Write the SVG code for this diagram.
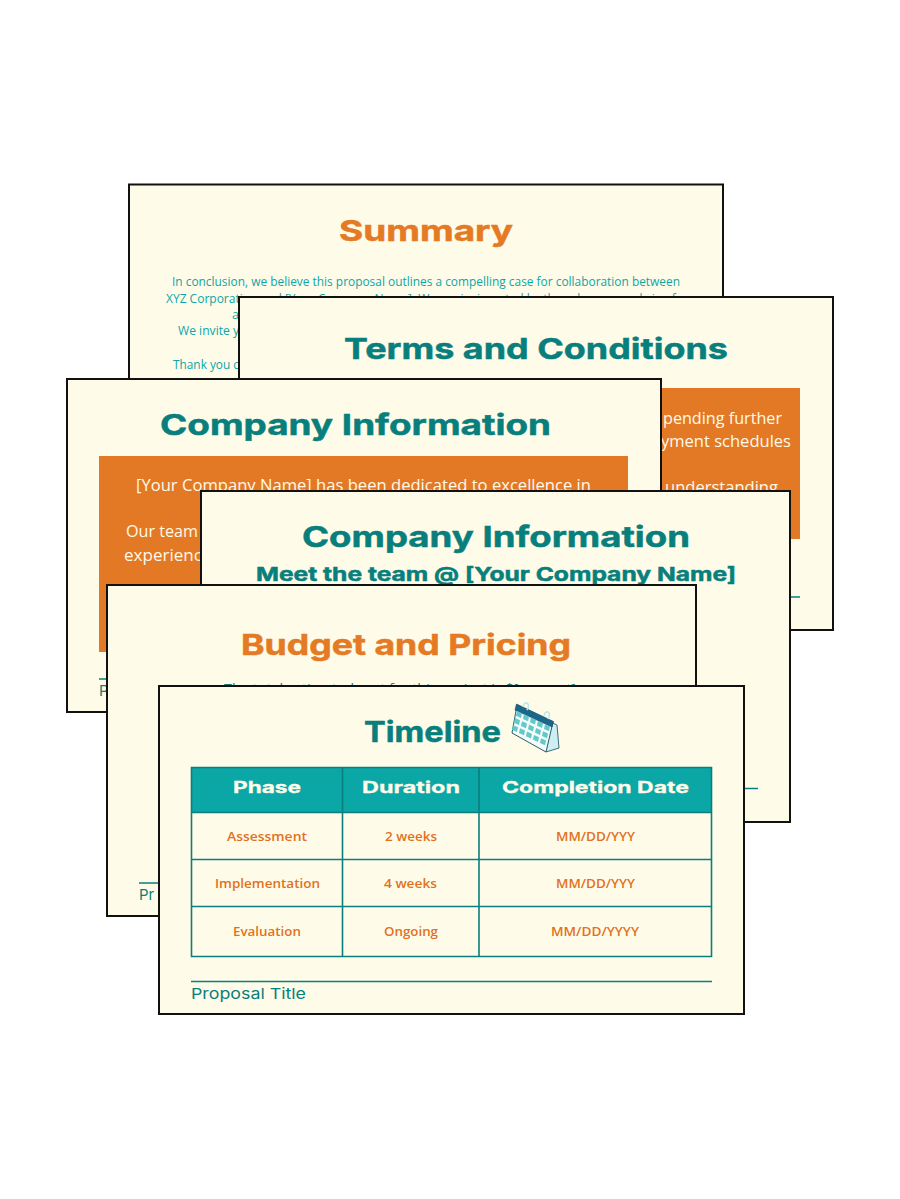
<svg xmlns="http://www.w3.org/2000/svg" width="900" height="1199" viewBox="0 0 900 1199">
<style>
.card{fill:#FEFCE9;stroke:#111;stroke-width:2}
.box{fill:#E37925}
.h{font-family:"Inter","Liberation Sans",sans-serif;font-weight:700;stroke-width:.5}
.b{font-family:"Open Sans","Liberation Sans",sans-serif;font-weight:400}
.t1{font-size:29px;fill:#087F7C;stroke:#087F7C}
.o1{font-size:29px;fill:#E57A24;stroke:#E57A24}
.body{font-size:12.5px;fill:#0BA6A6}
.w{font-size:16.5px;fill:#FFF9E8}
.rule{stroke:#087F7C;stroke-width:1.5;fill:none}
.foot{font-family:"Inter","Liberation Sans",sans-serif;font-size:15px;fill:#087F7C;font-weight:400}
.th{font-size:16px;fill:#FEFCE9;stroke:#FEFCE9;stroke-width:.3}
.td{font-family:"Open Sans","Liberation Sans",sans-serif;font-size:13px;font-weight:600;fill:#E2711D}
.tl{stroke:#087F7C;stroke-width:1.6;fill:none}
</style>
<rect width="900" height="1199" fill="#fff"/>
<g id="card-summary">
<rect class="card" x="129" y="184.500" width="594" height="240"/>
<text class="h o1" x="339" y="240.500" textLength="174" lengthAdjust="spacingAndGlyphs">Summary</text>
<text class="b body" x="172" y="286" textLength="508" lengthAdjust="spacingAndGlyphs">In conclusion, we believe this proposal outlines a compelling case for collaboration between</text>
<text class="b body" x="166" y="303" textLength="522" lengthAdjust="spacingAndGlyphs">XYZ Corporation and [Your Company Name]. We are invigorated by the value we can bring for</text>
<text class="b body" x="232" y="319">a</text>
<text class="b body" x="178" y="335" textLength="61" lengthAdjust="spacingAndGlyphs">We invite y</text>
<text class="b body" x="173" y="369" textLength="66" lengthAdjust="spacingAndGlyphs">Thank you c</text>
</g>
<g id="card-terms">
<rect class="card" x="239" y="297" width="594" height="333"/>
<text class="h t1" x="344" y="359" textLength="384" lengthAdjust="spacingAndGlyphs">Terms and Conditions</text>
<rect class="box" x="600" y="388" width="200" height="151"/>
<text class="b w" x="663" y="424" textLength="119" lengthAdjust="spacingAndGlyphs">pending further</text>
<text class="b w" x="661" y="447" textLength="130" lengthAdjust="spacingAndGlyphs">yment schedules</text>
<text class="b w" x="665" y="493" textLength="113" lengthAdjust="spacingAndGlyphs">understanding</text>
<line class="rule" x1="700" y1="597" x2="800" y2="597"/>
</g>
<g id="card-company-1">
<rect class="card" x="67" y="379" width="594" height="333"/>
<text class="h t1" x="160" y="435" textLength="391" lengthAdjust="spacingAndGlyphs">Company Information</text>
<rect class="box" x="99" y="456" width="529" height="196"/>
<text class="b w" x="136" y="491" textLength="455" lengthAdjust="spacingAndGlyphs">[Your Company Name] has been dedicated to excellence in</text>
<text class="b w" x="126" y="537" textLength="72" lengthAdjust="spacingAndGlyphs">Our team</text>
<text class="b w" x="124" y="561" textLength="78" lengthAdjust="spacingAndGlyphs">experienc</text>
<line class="rule" x1="99" y1="679" x2="112" y2="679"/>
<text class="foot" x="99" y="696">P</text>
</g>
<g id="card-company-2">
<rect class="card" x="201" y="491" width="589" height="331"/>
<text class="h t1" x="302" y="547" textLength="388" lengthAdjust="spacingAndGlyphs">Company Information</text>
<text class="h" x="256" y="580.500" font-size="19" fill="#087F7C" stroke="#087F7C" textLength="480" lengthAdjust="spacingAndGlyphs">Meet the team @ [Your Company Name]</text>
<line class="rule" x1="700" y1="788.500" x2="758" y2="788.500"/>
</g>
<g id="card-budget">
<rect class="card" x="107" y="585" width="589" height="331"/>
<text class="h o1" x="241" y="654.500" textLength="330" lengthAdjust="spacingAndGlyphs">Budget and Pricing</text>
<text class="b" x="224" y="693" font-size="12.500" fill="#087F7C" textLength="352" lengthAdjust="spacingAndGlyphs">The total estimated cost for this project is $[amount]</text>
<line class="rule" x1="139" y1="883" x2="165" y2="883"/>
<text class="foot" x="139" y="900">Pr</text>
</g>
<g id="card-timeline">
<rect class="card" x="159" y="686" width="585" height="328"/>
<text class="h t1" x="364" y="741.500" textLength="137" lengthAdjust="spacingAndGlyphs">Timeline</text>
<g id="calendar">
<path d="M518 707 L557 725 L559 748 L546 752 Z" fill="#CDEFF2" stroke="#17475F" stroke-width=".8"/>
<path d="M512 733 L546 752 L553 722 L517 705 Z" fill="#F4FBFB" stroke="#17475F" stroke-width=".9"/>
<path d="M516.500 704 L553.500 721.500 L552 727 L515 710 Z" fill="#17688C" stroke="#17475F" stroke-width=".6"/>
<g fill="#62C8C8">
<path d="M517 711l5 2.300-1 4.700-5-2.300zM524 714.300l5 2.300-1 4.700-5-2.300zM531 717.600l5 2.300-1 4.700-5-2.300zM538 720.900l5 2.300-1 4.700-5-2.300zM545 724.200l5 2.300-1 4.700-5-2.300z"/>
<path d="M515 718l5 2.300-1 4.700-5-2.300zM522 721.300l5 2.300-1 4.700-5-2.300zM529 724.600l5 2.300-1 4.700-5-2.300zM536 727.900l5 2.300-1 4.700-5-2.300zM543 731.200l5 2.300-1 4.700-5-2.300z"/>
<path d="M513 725l5 2.300-1 4.700-5-2.300zM520 728.300l5 2.300-1 4.700-5-2.300zM527 731.600l5 2.300-1 4.700-5-2.300zM534 734.900l5 2.300-1 4.700-5-2.300zM541 738.200l5 2.300-1 4.700-5-2.300z"/>
</g>
<path d="M523 707 q1-5 4-4 q3 2 0 7 M544 716 q1-5 4-4 q3 2 0 7" fill="none" stroke="#BFE6EA" stroke-width="1.600"/>
</g>
<rect x="191" y="767" width="521" height="45.500" fill="#0BA6A6"/>
<path class="tl" d="M191.500 767.500H711.500V956.500H191.500ZM191.500 812.500H711.500M191.500 859.500H711.500M191.500 906.500H711.500M342.500 767.500V956.500M479 767.500V956.500"/>
<text class="h th" x="233" y="793" textLength="68" lengthAdjust="spacingAndGlyphs">Phase</text>
<text class="h th" x="362" y="793" textLength="98" lengthAdjust="spacingAndGlyphs">Duration</text>
<text class="h th" x="502" y="793" textLength="187" lengthAdjust="spacingAndGlyphs">Completion Date</text>
<text class="td" x="227" y="841" textLength="80" lengthAdjust="spacingAndGlyphs">Assessment</text>
<text class="td" x="385" y="841" textLength="52" lengthAdjust="spacingAndGlyphs">2 weeks</text>
<text class="td" x="556" y="841" textLength="79" lengthAdjust="spacingAndGlyphs">MM/DD/YYY</text>
<text class="td" x="215" y="888" textLength="105" lengthAdjust="spacingAndGlyphs">Implementation</text>
<text class="td" x="384" y="888" textLength="53" lengthAdjust="spacingAndGlyphs">4 weeks</text>
<text class="td" x="556" y="888" textLength="79" lengthAdjust="spacingAndGlyphs">MM/DD/YYY</text>
<text class="td" x="233" y="936" textLength="68" lengthAdjust="spacingAndGlyphs">Evaluation</text>
<text class="td" x="384" y="936" textLength="54" lengthAdjust="spacingAndGlyphs">Ongoing</text>
<text class="td" x="551" y="936" textLength="88" lengthAdjust="spacingAndGlyphs">MM/DD/YYYY</text>
<line class="rule" x1="191" y1="981.500" x2="712" y2="981.500"/>
<text class="foot" x="191" y="999" textLength="115" lengthAdjust="spacingAndGlyphs">Proposal Title</text>
</g>
</svg>
